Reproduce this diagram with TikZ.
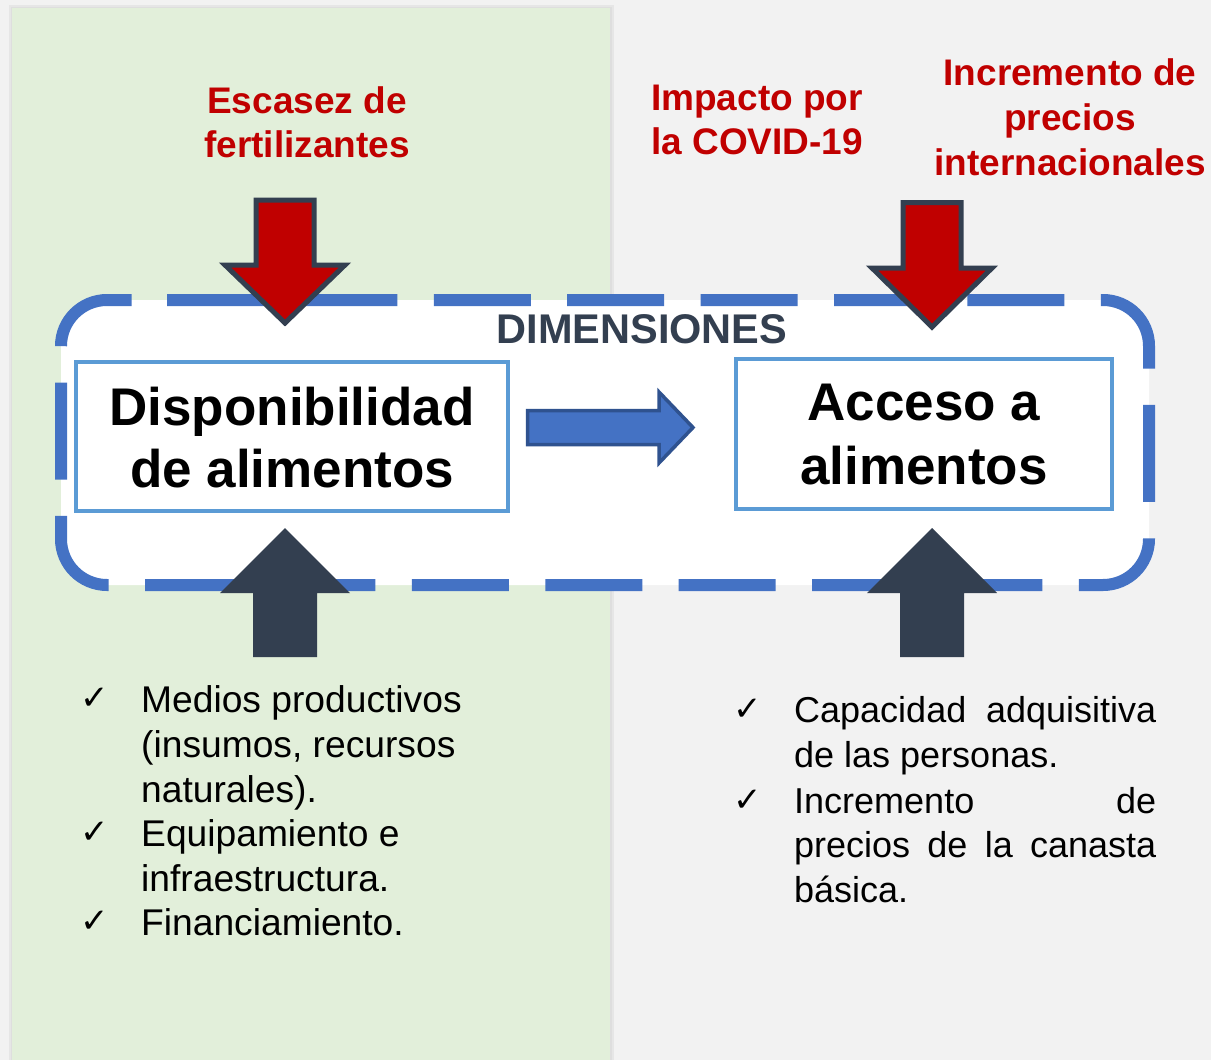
\documentclass[tikz,border=0pt]{standalone}
\usepackage{fontspec}
\setmainfont{Liberation Sans}
\newfontfamily\symfont{DejaVu Sans}
\definecolor{bgc}{HTML}{F2F2F2}
\definecolor{greenc}{HTML}{E2EFDA}
\definecolor{dashblue}{HTML}{4472C4}
\definecolor{boxblue}{HTML}{5B9BD5}
\definecolor{redc}{HTML}{C00000}
\definecolor{darkc}{HTML}{333F50}
\definecolor{blueA}{HTML}{4472C4}
\definecolor{blueB}{HTML}{2F528F}
\begin{document}
\begin{tikzpicture}[x=1pt,y=-1pt,
  redtxt/.style={text=redc, font=\bfseries\fontsize{37}{44}\selectfont, inner sep=0pt},
  listtxt/.style={font=\fontsize{36}{45}\selectfont, inner sep=0pt, anchor=base west},
  chk/.style={font=\symfont\fontsize{34}{34}\selectfont, inner sep=0pt, anchor=base},
  boxst/.style={draw=boxblue, line width=4pt, fill=white, inner sep=0pt},
  bigtxt/.style={font=\bfseries\fontsize{53}{62}\selectfont, inner sep=0pt, anchor=base},
  redarrow/.style={fill=redc, draw=darkc, line width=5pt, line join=miter},
  darkarrow/.style={fill=darkc},
  bluearrow/.style={fill=blueA, draw=blueB, line width=3.5pt, line join=miter},
  dashbox/.style={draw=dashblue, line width=12pt, dash pattern=on 97pt off 36.4pt, fill=white, rounded corners=46pt}
]
\useasboundingbox (0,0) rectangle (1211,1060);
% background
\fill[bgc] (0,0) rectangle (1211,1060);
% green panel with soft shadow
\fill[black!20, opacity=0.3] (9,5) rectangle (614,1060);
\fill[black!20, opacity=0.3] (10.5,6.5) rectangle (612,1060);
\fill[greenc] (12,8) rectangle (610,1060);
% dashed dimensions frame
\draw[dashbox] (167,300) -- (1149,300) -- (1149,585) -- (61,585) -- (61,300) -- (167,300);
% dimension title
\node[text=darkc, font=\bfseries\fontsize{41.5}{46}\selectfont, inner sep=0pt, anchor=base] (dimt) at (642,343) {DIMENSIONES};
% boxes
\node[boxst, minimum width=432pt, minimum height=149pt] (disp) at (292,436.5) {};
\node[boxst, minimum width=376pt, minimum height=150pt] (acc) at (924,434) {};
\node[bigtxt] (disp1) at (292,425) {Disponibilidad};
\node[bigtxt] (disp2) at (292,487) {de alimentos};
\node[bigtxt] (acc1) at (924,420) {Acceso a};
\node[bigtxt] (acc2) at (924,484) {alimentos};
% blue block arrow between boxes
\draw[bluearrow] (527.5,410.5) -- (659,410.5) -- (659,392) -- (693,427.5) -- (659,463) -- (659,444.5) -- (527.5,444.5) -- cycle;
% red arrows from top
\draw[redarrow] (256,200) -- (314,200) -- (314,265) -- (345,265) -- (285,323) -- (225,265) -- (256,265) -- cycle;
\draw[redarrow] (903,202.5) -- (961,202.5) -- (961,268) -- (992,268) -- (932,327) -- (872,268) -- (903,268) -- cycle;
% dark arrows from bottom
\fill[darkarrow] (253,657) -- (253,593) -- (220,593) -- (285,528) -- (350,593) -- (317,593) -- (317,657) -- cycle;
\fill[darkarrow] (900,657) -- (900,593) -- (867,593) -- (932,528) -- (997,593) -- (964,593) -- (964,657) -- cycle;
% red titles
\node[redtxt, anchor=base] (esc1) at (307,113) {Escasez de};
\node[redtxt, anchor=base] (esc2) at (307,157) {fertilizantes};
\node[redtxt, anchor=base west] (imp1) at (651,110) {Impacto por};
\node[redtxt, anchor=base west] (imp2) at (651,154) {la COVID-19};
\node[redtxt, anchor=base] (inc1) at (1070,85) {Incremento de};
\node[redtxt, anchor=base] (inc2) at (1070,130) {precios};
\node[redtxt, anchor=base] (inc3) at (1070,175) {internacionales};
% left list
\node[chk] (lc1) at (95,709) {✓};
\node[chk] (lc2) at (95,843) {✓};
\node[chk] (lc3) at (95,932) {✓};
\node[listtxt, font=\fontsize{37.2}{45}\selectfont] (l1) at (141,712) {Medios productivos};
\node[listtxt, font=\fontsize{37.2}{45}\selectfont] (l2) at (141,757) {(insumos, recursos};
\node[listtxt, font=\fontsize{37.2}{45}\selectfont] (l3) at (141,802) {naturales).};
\node[listtxt, font=\fontsize{37.2}{45}\selectfont] (l4) at (141,846) {Equipamiento e};
\node[listtxt, font=\fontsize{37.2}{45}\selectfont] (l5) at (141,891) {infraestructura.};
\node[listtxt, font=\fontsize{37.2}{45}\selectfont] (l6) at (141,935) {Financiamiento.};
% right list
\node[chk] (rc1) at (748,720) {✓};
\node[chk] (rc2) at (748,811) {✓};
\node[listtxt] (r1) at (794,722) {\makebox[362pt][s]{Capacidad adquisitiva}};
\node[listtxt] (r2) at (794,767) {de las personas.};
\node[listtxt] (r3) at (794,813) {\makebox[362pt][s]{Incremento\hfill de}};
\node[listtxt] (r4) at (794,857) {\makebox[362pt][s]{precios de la canasta}};
\node[listtxt] (r5) at (794,902) {básica.};
\end{tikzpicture}
\end{document}
